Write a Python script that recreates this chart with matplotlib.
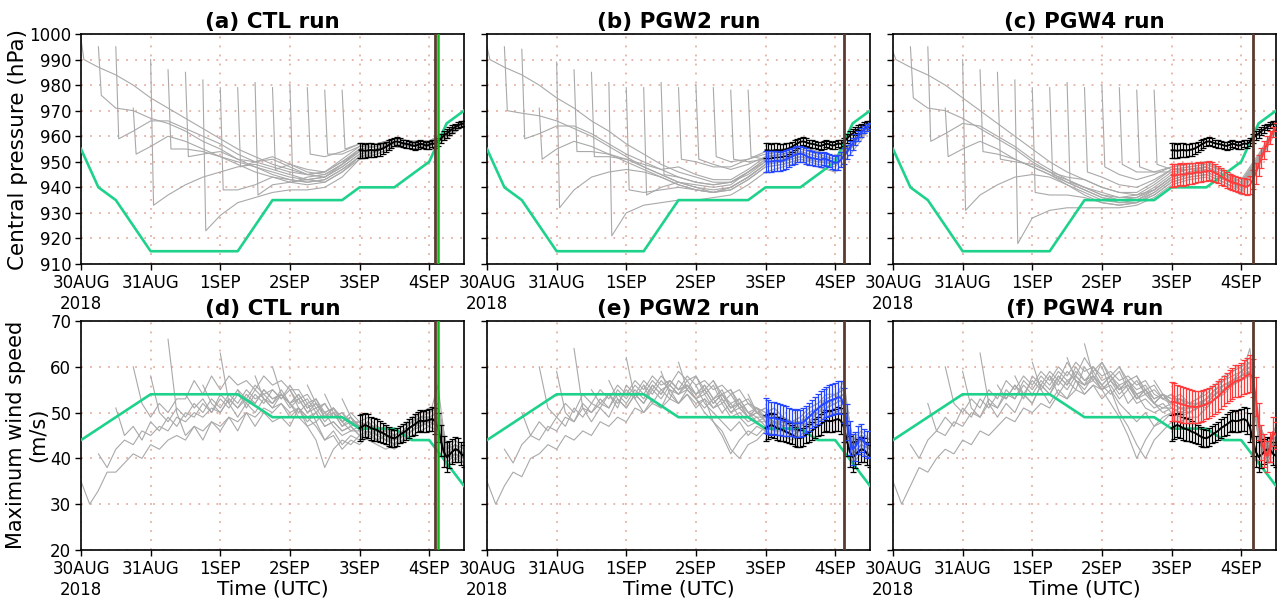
import numpy as np
import matplotlib
matplotlib.use("Agg")
import matplotlib.pyplot as plt

# time axis: days since 30AUG2018 00UTC
day_ticks = [0, 1, 2, 3, 4, 5]
day_labels = ["30AUG\n2018", "31AUG", "1SEP", "2SEP", "3SEP", "4SEP"]

# start time of each ensemble member (every 6 h)
member_start = [0.0, 0.25, 0.5, 0.75, 1.0, 1.25, 1.5, 1.75,
                2.0, 2.25, 2.5, 2.75, 3.0, 3.25, 3.5, 3.75]

# best track
bt_pres_time = [0.0, 0.25, 0.5, 1.0, 2.25, 2.75, 3.75, 4.0, 4.5, 5.0, 5.25, 5.5]
bt_pres = [955, 940, 935, 915, 915, 935, 935, 940, 940, 950, 965, 970]
bt_wind_time = [0.0, 1.0, 2.25, 2.75, 3.75, 4.0, 4.5, 4.75, 5.0, 5.5]
bt_wind = [44, 54, 54, 49, 49, 46.5, 46.5, 44, 44, 34]

# landfall times (days)
landfall_obs = 5.125
landfall_ctl = 5.09
landfall_pgw2 = 5.12
landfall_pgw4 = 5.17

# central pressure of members: [initial, +1h, then every 6 h until 4SEP12]
ctl_pres = [
    [998, 990, 987, 984, 980, 975, 971, 967, 963, 959, 955, 952, 949, 947, 945, 946, 950, 954, 955, 958, 957, 957, 961, 965],
    [995, 976, 971, 970, 967, 965, 962, 958, 955, 951, 948, 946, 944, 943, 944, 948, 953, 954, 957, 956, 956, 960, 964],
    [995, 959, 962, 966, 966, 963, 960, 957, 953, 950, 948, 946, 945, 946, 950, 955, 956, 958, 957, 957, 961, 965],
    [971, 953, 956, 960, 958, 955, 952, 950, 948, 945, 943, 942, 943, 947, 952, 953, 956, 955, 956, 960, 964],
    [990, 933, 937, 941, 944, 946, 948, 949, 947, 945, 943, 944, 948, 953, 955, 957, 956, 956, 960, 965],
    [986, 955, 955, 954, 952, 949, 946, 944, 942, 941, 942, 946, 951, 953, 956, 955, 955, 959, 964],
    [985, 952, 953, 954, 951, 950, 952, 949, 946, 945, 949, 954, 955, 958, 957, 957, 961, 965],
    [982, 923, 929, 934, 936, 938, 939, 939, 940, 944, 951, 953, 956, 955, 956, 960, 964],
    [979, 939, 939, 941, 944, 943, 942, 943, 947, 952, 954, 957, 956, 956, 960, 965],
    [979, 948, 950, 951, 948, 945, 944, 949, 955, 956, 959, 958, 958, 962, 965],
    [981, 937, 941, 942, 943, 942, 946, 952, 954, 957, 956, 957, 961, 965],
    [979, 947, 949, 947, 946, 951, 956, 957, 959, 958, 958, 962, 966],
    [980, 942, 944, 945, 949, 954, 955, 958, 956, 957, 961, 965],
    [979, 953, 952, 954, 957, 957, 959, 958, 958, 962, 966],
    [978, 953, 953, 956, 956, 958, 957, 957, 961, 965],
    [978, 955, 957, 957, 959, 958, 958, 962, 966],
]
pgw2_pres = [
    [995, 990, 987, 984, 980, 975, 971, 966, 962, 957, 953, 949, 946, 944, 942, 942, 945, 950, 951, 953, 951, 950, 958, 964],
    [995, 970, 969, 968, 966, 963, 960, 956, 952, 948, 945, 942, 940, 939, 940, 944, 949, 950, 952, 950, 949, 957, 963],
    [994, 959, 961, 964, 964, 961, 957, 953, 950, 947, 944, 942, 941, 942, 946, 951, 952, 954, 952, 951, 958, 964],
    [971, 951, 955, 958, 956, 953, 950, 947, 944, 941, 939, 938, 939, 943, 948, 949, 951, 949, 948, 956, 963],
    [989, 932, 939, 944, 946, 947, 946, 944, 941, 939, 938, 940, 944, 949, 950, 952, 950, 949, 957, 964],
    [986, 954, 954, 953, 951, 948, 945, 942, 940, 938, 939, 943, 948, 949, 951, 950, 949, 956, 963],
    [985, 952, 952, 951, 949, 947, 948, 945, 943, 943, 947, 952, 953, 955, 953, 951, 958, 964],
    [981, 921, 930, 933, 934, 935, 935, 936, 937, 941, 946, 948, 950, 948, 946, 954, 963],
    [979, 939, 938, 939, 940, 939, 938, 940, 944, 949, 950, 952, 951, 949, 956, 964],
    [979, 937, 940, 942, 941, 940, 941, 946, 951, 952, 954, 952, 950, 957, 964],
    [981, 945, 944, 942, 941, 942, 946, 950, 951, 953, 951, 950, 957, 964],
    [979, 951, 950, 948, 948, 951, 954, 955, 956, 954, 952, 958, 965],
    [980, 951, 949, 947, 949, 952, 953, 955, 953, 951, 957, 964],
    [979, 952, 950, 951, 953, 954, 956, 954, 952, 958, 965],
    [978, 951, 950, 951, 952, 954, 952, 950, 957, 964],
    [978, 952, 951, 952, 953, 951, 949, 956, 964],
]
pgw4_pres = [
    [993, 990, 987, 984, 980, 975, 970, 965, 960, 955, 950, 946, 943, 940, 938, 937, 939, 944, 946, 947, 944, 941, 952, 963],
    [995, 975, 971, 970, 967, 963, 959, 955, 950, 946, 942, 939, 936, 935, 935, 938, 943, 945, 946, 943, 940, 951, 963],
    [995, 958, 961, 965, 964, 960, 956, 951, 947, 943, 940, 937, 936, 936, 939, 944, 946, 947, 944, 941, 952, 963],
    [971, 952, 955, 958, 955, 951, 948, 945, 941, 938, 935, 934, 934, 937, 942, 944, 945, 942, 939, 950, 962],
    [990, 931, 937, 941, 944, 945, 944, 941, 937, 934, 933, 934, 937, 942, 944, 945, 942, 938, 950, 963],
    [986, 954, 953, 951, 948, 945, 942, 939, 936, 934, 935, 939, 944, 946, 948, 945, 941, 951, 963],
    [985, 951, 950, 949, 946, 944, 943, 940, 938, 938, 942, 947, 948, 949, 946, 942, 952, 964],
    [982, 918, 928, 931, 932, 932, 932, 932, 933, 936, 941, 943, 944, 941, 937, 949, 962],
    [979, 938, 937, 937, 936, 934, 933, 934, 938, 943, 945, 946, 943, 940, 951, 963],
    [979, 945, 943, 940, 937, 935, 936, 940, 945, 947, 948, 945, 942, 952, 963],
    [981, 942, 940, 938, 936, 937, 941, 946, 947, 948, 945, 941, 951, 963],
    [979, 946, 944, 941, 940, 943, 947, 948, 949, 946, 942, 952, 964],
    [980, 948, 945, 943, 945, 948, 949, 950, 947, 943, 953, 964],
    [979, 949, 946, 946, 948, 949, 950, 946, 942, 952, 964],
    [978, 948, 946, 946, 947, 948, 944, 940, 950, 963],
    [978, 949, 947, 947, 948, 944, 939, 950, 963],
]

# maximum wind speed of members, every 3 h from start until 4SEP12
ctl_wind = [
    [35, 30, 33, 37, 37, 39, 41, 40, 43, 42, 44, 45, 44, 47, 46, 48, 47, 49, 48, 50, 49, 51, 50, 52, 50, 51, 49, 50, 47, 48, 46, 47, 45, 46, 44, 45, 43, 45, 46, 48, 47, 46, 40, 42, 40],
    [41, 38, 42, 44, 43, 46, 45, 47, 46, 49, 48, 50, 49, 51, 50, 53, 51, 53, 52, 55, 53, 54, 52, 54, 51, 52, 50, 51, 48, 49, 46, 48, 46, 45, 44, 46, 47, 49, 48, 49, 41, 43, 41],
    [51, 45, 47, 44, 48, 46, 49, 47, 50, 49, 52, 50, 53, 51, 54, 52, 55, 53, 52, 54, 51, 53, 50, 51, 48, 50, 47, 48, 47, 48, 46, 47, 45, 46, 48, 49, 49, 50, 40, 42, 41],
    [60, 52, 49, 52, 50, 53, 53, 57, 54, 58, 55, 58, 56, 57, 55, 58, 56, 57, 55, 55, 52, 53, 50, 51, 49, 48, 47, 48, 45, 46, 44, 45, 47, 48, 48, 47, 39, 41, 40],
    [58, 50, 48, 51, 49, 52, 50, 53, 51, 54, 52, 55, 53, 54, 52, 55, 52, 53, 50, 52, 49, 50, 47, 49, 46, 47, 45, 44, 43, 45, 46, 48, 49, 48, 41, 40, 41],
    [66, 50, 45, 47, 44, 48, 46, 49, 46, 50, 47, 50, 48, 49, 47, 51, 48, 50, 47, 48, 46, 47, 45, 46, 44, 45, 43, 44, 46, 47, 48, 47, 40, 41, 39],
    [54, 51, 53, 50, 54, 52, 55, 53, 56, 54, 55, 53, 56, 53, 54, 51, 52, 49, 50, 48, 48, 47, 46, 45, 45, 46, 47, 49, 50, 51, 42, 43, 42],
    [56, 52, 50, 53, 51, 54, 52, 55, 53, 54, 52, 54, 51, 53, 49, 51, 48, 46, 47, 45, 46, 44, 45, 46, 48, 47, 49, 48, 39, 41, 40],
    [63, 52, 49, 52, 50, 53, 51, 52, 49, 51, 47, 48, 44, 45, 42, 44, 43, 45, 44, 43, 42, 44, 45, 46, 47, 46, 38, 40, 39],
    [55, 51, 54, 52, 55, 53, 55, 52, 53, 50, 52, 49, 50, 47, 48, 47, 47, 46, 46, 47, 48, 50, 50, 52, 43, 42, 43],
    [58, 53, 51, 54, 52, 50, 52, 48, 50, 47, 45, 46, 46, 47, 45, 44, 44, 45, 47, 48, 48, 49, 40, 41, 40],
    [60, 54, 52, 49, 47, 44, 38, 42, 44, 43, 45, 44, 43, 42, 43, 44, 46, 47, 48, 47, 38, 40, 39],
    [55, 51, 49, 47, 44, 46, 43, 45, 44, 46, 45, 44, 43, 45, 46, 48, 47, 49, 41, 42, 41],
    [56, 52, 49, 51, 48, 50, 48, 49, 47, 46, 46, 47, 49, 50, 51, 50, 42, 44, 42],
    [54, 50, 48, 49, 47, 48, 46, 45, 45, 46, 48, 49, 49, 50, 40, 42, 41],
    [53, 49, 47, 48, 46, 46, 45, 46, 48, 49, 49, 56, 41, 43, 42],
]
pgw2_wind = [
    [35, 30, 34, 37, 36, 40, 41, 43, 42, 45, 44, 46, 45, 48, 47, 49, 48, 51, 50, 52, 51, 53, 52, 54, 52, 53, 51, 52, 49, 50, 48, 49, 47, 48, 46, 47, 46, 48, 49, 51, 52, 53, 42, 44, 43],
    [42, 39, 43, 45, 44, 47, 46, 49, 48, 51, 50, 52, 51, 54, 52, 55, 53, 56, 54, 57, 55, 56, 54, 56, 53, 54, 52, 53, 50, 51, 49, 48, 47, 48, 47, 49, 50, 52, 53, 54, 41, 43, 42],
    [50, 45, 48, 46, 49, 47, 51, 49, 52, 51, 54, 52, 55, 53, 56, 54, 57, 55, 54, 56, 53, 55, 52, 54, 51, 52, 50, 49, 49, 48, 48, 47, 48, 49, 50, 52, 53, 54, 43, 45, 44],
    [60, 51, 49, 52, 50, 54, 52, 55, 53, 56, 54, 57, 55, 58, 56, 57, 55, 58, 56, 57, 55, 56, 54, 55, 52, 51, 50, 51, 49, 48, 48, 49, 50, 52, 53, 54, 42, 44, 43],
    [59, 50, 48, 52, 50, 53, 51, 55, 53, 56, 54, 57, 55, 56, 54, 57, 54, 55, 52, 54, 51, 52, 49, 51, 48, 47, 46, 47, 48, 50, 51, 52, 53, 52, 41, 42, 43],
    [64, 51, 48, 51, 49, 53, 51, 54, 52, 55, 53, 56, 54, 55, 53, 54, 51, 53, 50, 51, 49, 50, 48, 49, 47, 48, 48, 50, 51, 52, 53, 54, 43, 44, 42],
    [55, 52, 54, 51, 56, 54, 57, 55, 58, 56, 59, 57, 58, 55, 57, 54, 55, 52, 53, 50, 51, 49, 49, 48, 49, 51, 52, 53, 54, 55, 44, 45, 44],
    [57, 53, 51, 54, 52, 56, 54, 57, 55, 56, 54, 56, 53, 55, 51, 53, 50, 48, 49, 47, 48, 47, 47, 48, 50, 51, 52, 53, 40, 42, 41],
    [62, 53, 50, 53, 51, 55, 52, 54, 51, 53, 48, 46, 42, 40, 43, 44, 46, 45, 45, 44, 45, 47, 48, 49, 50, 51, 39, 41, 40],
    [56, 52, 55, 53, 57, 55, 58, 54, 56, 52, 54, 51, 52, 50, 51, 49, 49, 48, 49, 51, 52, 54, 54, 55, 44, 45, 44],
    [59, 54, 52, 55, 53, 51, 53, 50, 52, 49, 47, 48, 48, 49, 47, 46, 47, 48, 50, 51, 52, 53, 41, 43, 42],
    [61, 55, 53, 50, 48, 45, 41, 44, 46, 45, 47, 46, 46, 45, 46, 47, 49, 50, 51, 52, 40, 42, 41],
    [56, 52, 50, 48, 46, 48, 45, 47, 46, 48, 47, 46, 46, 48, 49, 51, 52, 53, 42, 44, 43],
    [57, 53, 50, 52, 49, 51, 50, 51, 49, 48, 48, 50, 51, 53, 54, 55, 44, 46, 44],
    [55, 51, 49, 50, 49, 50, 48, 47, 47, 49, 50, 52, 53, 54, 42, 44, 43],
    [54, 50, 49, 50, 48, 48, 47, 48, 50, 51, 53, 57, 43, 45, 44],
]
pgw4_wind = [
    [35, 30, 34, 38, 37, 40, 42, 41, 44, 43, 46, 45, 47, 49, 48, 51, 50, 52, 51, 54, 53, 55, 54, 56, 55, 57, 55, 56, 54, 55, 53, 54, 52, 53, 51, 52, 52, 54, 55, 57, 57, 59, 46, 41, 45],
    [43, 40, 44, 46, 45, 48, 47, 50, 49, 52, 51, 54, 53, 56, 54, 57, 55, 58, 56, 59, 57, 58, 56, 58, 56, 57, 55, 56, 53, 54, 52, 51, 51, 52, 53, 55, 56, 57, 58, 60, 45, 40, 44],
    [52, 46, 49, 47, 51, 49, 53, 51, 54, 53, 56, 54, 57, 55, 58, 56, 59, 57, 56, 58, 55, 57, 54, 56, 53, 54, 52, 51, 51, 50, 51, 52, 53, 55, 56, 57, 58, 59, 47, 42, 46],
    [60, 52, 50, 53, 51, 55, 53, 57, 55, 58, 56, 59, 57, 60, 58, 61, 59, 60, 58, 59, 57, 58, 56, 57, 54, 53, 52, 53, 52, 53, 55, 56, 58, 59, 60, 62, 46, 41, 45],
    [59, 51, 49, 53, 51, 55, 53, 57, 55, 58, 56, 59, 57, 58, 56, 60, 57, 58, 55, 57, 54, 55, 52, 54, 51, 50, 50, 51, 53, 55, 56, 57, 58, 59, 44, 39, 43],
    [63, 52, 49, 52, 50, 54, 52, 56, 54, 57, 55, 58, 56, 57, 55, 56, 53, 55, 52, 53, 51, 52, 50, 51, 50, 51, 52, 54, 55, 57, 58, 60, 47, 42, 46],
    [56, 53, 56, 53, 58, 56, 59, 57, 61, 58, 62, 59, 61, 58, 60, 57, 58, 55, 56, 53, 54, 52, 52, 51, 53, 54, 56, 57, 59, 61, 48, 43, 47],
    [58, 54, 52, 56, 54, 58, 56, 60, 57, 59, 56, 58, 55, 57, 53, 55, 52, 50, 51, 50, 50, 51, 52, 54, 56, 57, 58, 59, 45, 40, 44],
    [61, 55, 52, 55, 53, 57, 54, 56, 53, 55, 50, 47, 43, 40, 44, 46, 48, 48, 49, 49, 51, 53, 54, 56, 57, 58, 44, 40, 43],
    [58, 54, 57, 55, 60, 57, 61, 57, 59, 55, 57, 54, 55, 53, 54, 52, 52, 53, 54, 56, 57, 59, 60, 61, 48, 43, 47],
    [62, 57, 55, 58, 56, 54, 56, 52, 54, 51, 50, 51, 52, 51, 51, 52, 53, 55, 56, 57, 58, 59, 45, 41, 44],
    [65, 58, 55, 52, 49, 45, 40, 44, 47, 48, 50, 49, 50, 51, 52, 54, 55, 57, 58, 59, 44, 40, 43],
    [60, 55, 52, 50, 48, 50, 47, 49, 50, 51, 50, 51, 52, 54, 55, 57, 58, 59, 46, 42, 46],
    [60, 56, 53, 55, 52, 54, 53, 53, 52, 52, 53, 55, 57, 58, 59, 60, 47, 43, 46],
    [58, 54, 52, 54, 52, 53, 51, 51, 52, 54, 56, 57, 58, 59, 45, 41, 45],
    [57, 54, 53, 54, 52, 52, 51, 53, 55, 56, 58, 64, 46, 42, 46],
]

# ensemble mean and spread, hourly from 3SEP00 to 4SEP12
ctl_pres_mean = [954.5, 954.5, 954.3, 954.5, 954.6, 954.4, 954.6, 954.8, 955.2, 955.8, 956.5, 957.2,
                 957.8, 958.0, 957.6, 957.2, 957.0, 956.8, 956.4, 956.2, 956.6, 957.1, 956.8, 956.3,
                 956.6, 957.2, 957.0, 957.8, 959.0, 960.2, 961.0, 962.0, 962.8, 963.6, 964.3, 964.8, 965.0]
ctl_pres_sd = [3.0, 2.9, 2.8, 2.8, 2.7, 2.6, 2.5, 2.4, 2.2, 2.0, 1.9, 1.8,
               1.7, 1.6, 1.6, 1.5, 1.5, 1.5, 1.4, 1.4, 1.5, 1.5, 1.4, 1.4,
               1.5, 1.5, 1.6, 1.7, 1.8, 1.8, 1.7, 1.6, 1.4, 1.3, 1.2, 1.1, 1.0]
pgw2_pres_mean = [950.2, 950.0, 950.1, 950.3, 950.4, 950.2, 950.5, 950.9, 951.4, 952.0, 952.6, 953.0,
                  953.2, 952.9, 952.3, 951.7, 951.4, 951.2, 951.0, 950.8, 951.2, 951.0, 950.5, 950.0,
                  949.6, 949.8, 950.8, 952.2, 953.8, 955.4, 957.0, 958.6, 960.0, 961.4, 962.6, 963.4, 964.0]
pgw2_pres_sd = [4.2, 4.1, 4.0, 4.0, 3.9, 3.8, 3.7, 3.6, 3.5, 3.4, 3.3, 3.2,
                3.1, 3.0, 3.0, 2.9, 2.8, 2.8, 2.7, 2.7, 2.6, 2.6, 2.6, 2.7,
                2.8, 2.9, 3.0, 3.0, 2.9, 2.7, 2.5, 2.2, 2.0, 1.7, 1.5, 1.3, 1.2]
pgw4_pres_mean = [944.8, 944.6, 944.9, 945.1, 944.9, 945.2, 945.5, 945.4, 945.7, 946.0, 945.8, 946.2,
                  946.3, 946.5, 946.2, 945.6, 945.0, 944.3, 943.6, 943.0, 942.4, 942.0, 941.6, 941.2,
                  940.8, 940.5, 940.2, 941.0, 943.0, 945.5, 948.5, 951.5, 954.6, 957.2, 959.6, 961.8, 963.7]
pgw4_pres_sd = [4.5, 4.4, 4.4, 4.3, 4.3, 4.2, 4.1, 4.0, 4.0, 3.9, 3.9, 3.8,
                3.8, 3.7, 3.6, 3.5, 3.4, 3.3, 3.2, 3.1, 3.0, 3.0, 2.9, 2.9,
                2.9, 3.0, 3.2, 3.5, 3.8, 4.0, 4.0, 3.8, 3.4, 3.0, 2.5, 2.0, 1.5]

ctl_wind_mean = [46.6, 47.0, 47.3, 47.0, 46.6, 46.4, 46.2, 45.8, 45.6, 45.2, 44.8, 44.5,
                 44.4, 44.7, 45.2, 45.6, 46.0, 46.6, 47.0, 47.4, 47.9, 48.3, 48.1, 48.2,
                 48.4, 48.6, 48.2, 46.8, 44.0, 41.5, 40.3, 40.8, 41.5, 42.0, 41.8, 41.0, 40.5]
ctl_wind_sd = [2.8, 2.7, 2.7, 2.6, 2.5, 2.5, 2.4, 2.3, 2.2, 2.1, 2.0, 2.0,
               1.9, 1.9, 1.9, 2.0, 2.0, 2.1, 2.1, 2.2, 2.2, 2.3, 2.3, 2.4,
               2.4, 2.6, 2.8, 3.2, 3.4, 3.3, 3.2, 3.0, 2.8, 2.7, 2.6, 2.5, 2.4]
pgw2_wind_mean = [49.3, 49.0, 48.8, 48.9, 48.6, 48.5, 48.3, 48.2, 48.0, 47.8, 47.6, 47.7,
                  47.6, 47.9, 48.5, 49.1, 49.7, 50.3, 50.8, 51.4, 51.9, 52.3, 52.6, 52.8,
                  53.0, 53.4, 53.2, 51.5, 48.0, 44.5, 42.0, 42.6, 44.0, 44.5, 43.5, 43.0, 43.2]
pgw2_wind_sd = [3.8, 3.7, 3.6, 3.5, 3.5, 3.4, 3.3, 3.2, 3.1, 3.0, 3.0, 3.0,
                3.0, 3.0, 3.0, 3.1, 3.1, 3.2, 3.2, 3.3, 3.3, 3.3, 3.4, 3.4,
                3.4, 3.5, 3.6, 3.8, 3.9, 3.7, 3.4, 3.2, 3.1, 3.0, 3.0, 2.9, 2.8]
pgw4_wind_mean = [52.4, 52.3, 52.1, 51.9, 51.7, 51.5, 51.4, 51.3, 51.2, 51.3, 51.4, 51.6,
                  51.8, 52.1, 52.5, 53.0, 53.5, 54.1, 54.7, 55.3, 55.9, 56.4, 56.8, 57.0,
                  57.2, 57.7, 58.1, 58.5, 57.5, 53.5, 48.0, 43.5, 41.8, 40.5, 42.5, 45.8, 45.0]
pgw4_wind_sd = [4.2, 4.1, 4.0, 4.0, 3.9, 3.8, 3.7, 3.6, 3.5, 3.5, 3.4, 3.4,
                3.3, 3.3, 3.3, 3.3, 3.3, 3.3, 3.3, 3.3, 3.4, 3.4, 3.5, 3.5,
                3.6, 3.7, 3.8, 4.0, 4.2, 4.2, 4.0, 3.8, 3.6, 3.4, 3.3, 3.2, 3.0]

mean_time = 4.0 + np.arange(len(ctl_pres_mean)) / 24.0

GRAY = "#a9a9a9"
TRACK = "#1fd28c"
BROWN = "#5b3a2f"
OBS_GREEN = "#12b51a"
BLUE = "#2447ff"
RED = "#ff3b3b"
GRID = "#e6b0a2"


def pres_times(s, n):
    t = np.concatenate([[s, s + 1.0 / 24], s + 0.25 * np.arange(1, 30)])
    return t[:n]


def wind_times(s, n):
    return s + 0.125 * np.arange(n)


def style_axes(ax, ylim, yticks, show_ylabels):
    ax.set_xlim(0, 5.5)
    ax.set_ylim(*ylim)
    ax.set_xticks(day_ticks)
    ax.set_xticklabels(day_labels)
    ax.set_yticks(yticks)
    if not show_ylabels:
        ax.set_yticklabels([])
    ax.tick_params(direction="out", length=4, width=1, labelsize=12, pad=3)
    ax.grid(True, color=GRID, linestyle=(0, (1, 4)), linewidth=1.3)
    ax.set_axisbelow(True)
    for sp in ax.spines.values():
        sp.set_linewidth(1.2)


fig = plt.figure(figsize=(12.77, 6.02), dpi=100)

lefts = [81 / 1277, 487 / 1277, 893 / 1277]
width = 383 / 1277
top_row = [1 - 264 / 602, 230 / 602]
bot_row = [1 - 550 / 602, 229 / 602]

runs = [
    ("CTL", ctl_pres, ctl_wind, None, None, None, None, None, landfall_ctl),
    ("PGW2", pgw2_pres, pgw2_wind, pgw2_pres_mean, pgw2_pres_sd, pgw2_wind_mean, pgw2_wind_sd, BLUE, landfall_pgw2),
    ("PGW4", pgw4_pres, pgw4_wind, pgw4_pres_mean, pgw4_pres_sd, pgw4_wind_mean, pgw4_wind_sd, RED, landfall_pgw4),
]
letters_top = ["(a)", "(b)", "(c)"]
letters_bot = ["(d)", "(e)", "(f)"]

eb_kw = dict(lw=1.4, elinewidth=0.9, capsize=2.2, capthick=0.9)

for i, (name, pres, wind, pm, psd, wm, wsd, col, lf) in enumerate(runs):
    # central pressure
    ax = fig.add_axes([lefts[i], top_row[0], width, top_row[1]])
    for s, vals in zip(member_start, pres):
        ax.plot(pres_times(s, len(vals)), vals, color=GRAY, lw=0.8, zorder=2)
    ax.plot(bt_pres_time, bt_pres, color=TRACK, lw=1.9, zorder=3)
    ax.errorbar(mean_time, ctl_pres_mean, yerr=ctl_pres_sd, color="black", zorder=5, **eb_kw)
    if pm is not None:
        ax.errorbar(mean_time, pm, yerr=psd, color=col, zorder=6, **eb_kw)
    ax.axvline(lf, color=BROWN, lw=2.0, zorder=7)
    if name == "CTL":
        ax.axvline(landfall_obs, color=OBS_GREEN, lw=1.8, zorder=7)
    style_axes(ax, (910, 1000), np.arange(910, 1001, 10), i == 0)
    ax.set_title(f"{letters_top[i]} {name} run", fontsize=15.5, fontweight="bold", pad=4)

    # maximum wind speed
    ax = fig.add_axes([lefts[i], bot_row[0], width, bot_row[1]])
    for s, vals in zip(member_start, wind):
        ax.plot(wind_times(s, len(vals)), vals, color=GRAY, lw=0.8, zorder=2)
    ax.plot(bt_wind_time, bt_wind, color=TRACK, lw=1.9, zorder=3)
    ax.errorbar(mean_time, ctl_wind_mean, yerr=ctl_wind_sd, color="black", zorder=5, **eb_kw)
    if wm is not None:
        ax.errorbar(mean_time, wm, yerr=wsd, color=col, zorder=6, **eb_kw)
    ax.axvline(lf, color=BROWN, lw=2.0, zorder=7)
    if name == "CTL":
        ax.axvline(landfall_obs, color=OBS_GREEN, lw=1.8, zorder=7)
    style_axes(ax, (20, 70), np.arange(20, 71, 10), i == 0)
    ax.set_title(f"{letters_bot[i]} {name} run", fontsize=15.5, fontweight="bold", pad=4)
    ax.text(0.5, -0.128, "Time (UTC)", transform=ax.transAxes, ha="center", va="top", fontsize=14.5)

fig.text(18 / 1277, 1 - 149 / 602, "Central pressure (hPa)", rotation=90,
         ha="center", va="center", fontsize=15.5)
fig.text(27 / 1277, 1 - 435 / 602, "Maximum wind speed\n(m/s)", rotation=90,
         ha="center", va="center", fontsize=15, linespacing=1.1)

fig.savefig("out.png", dpi=100)
